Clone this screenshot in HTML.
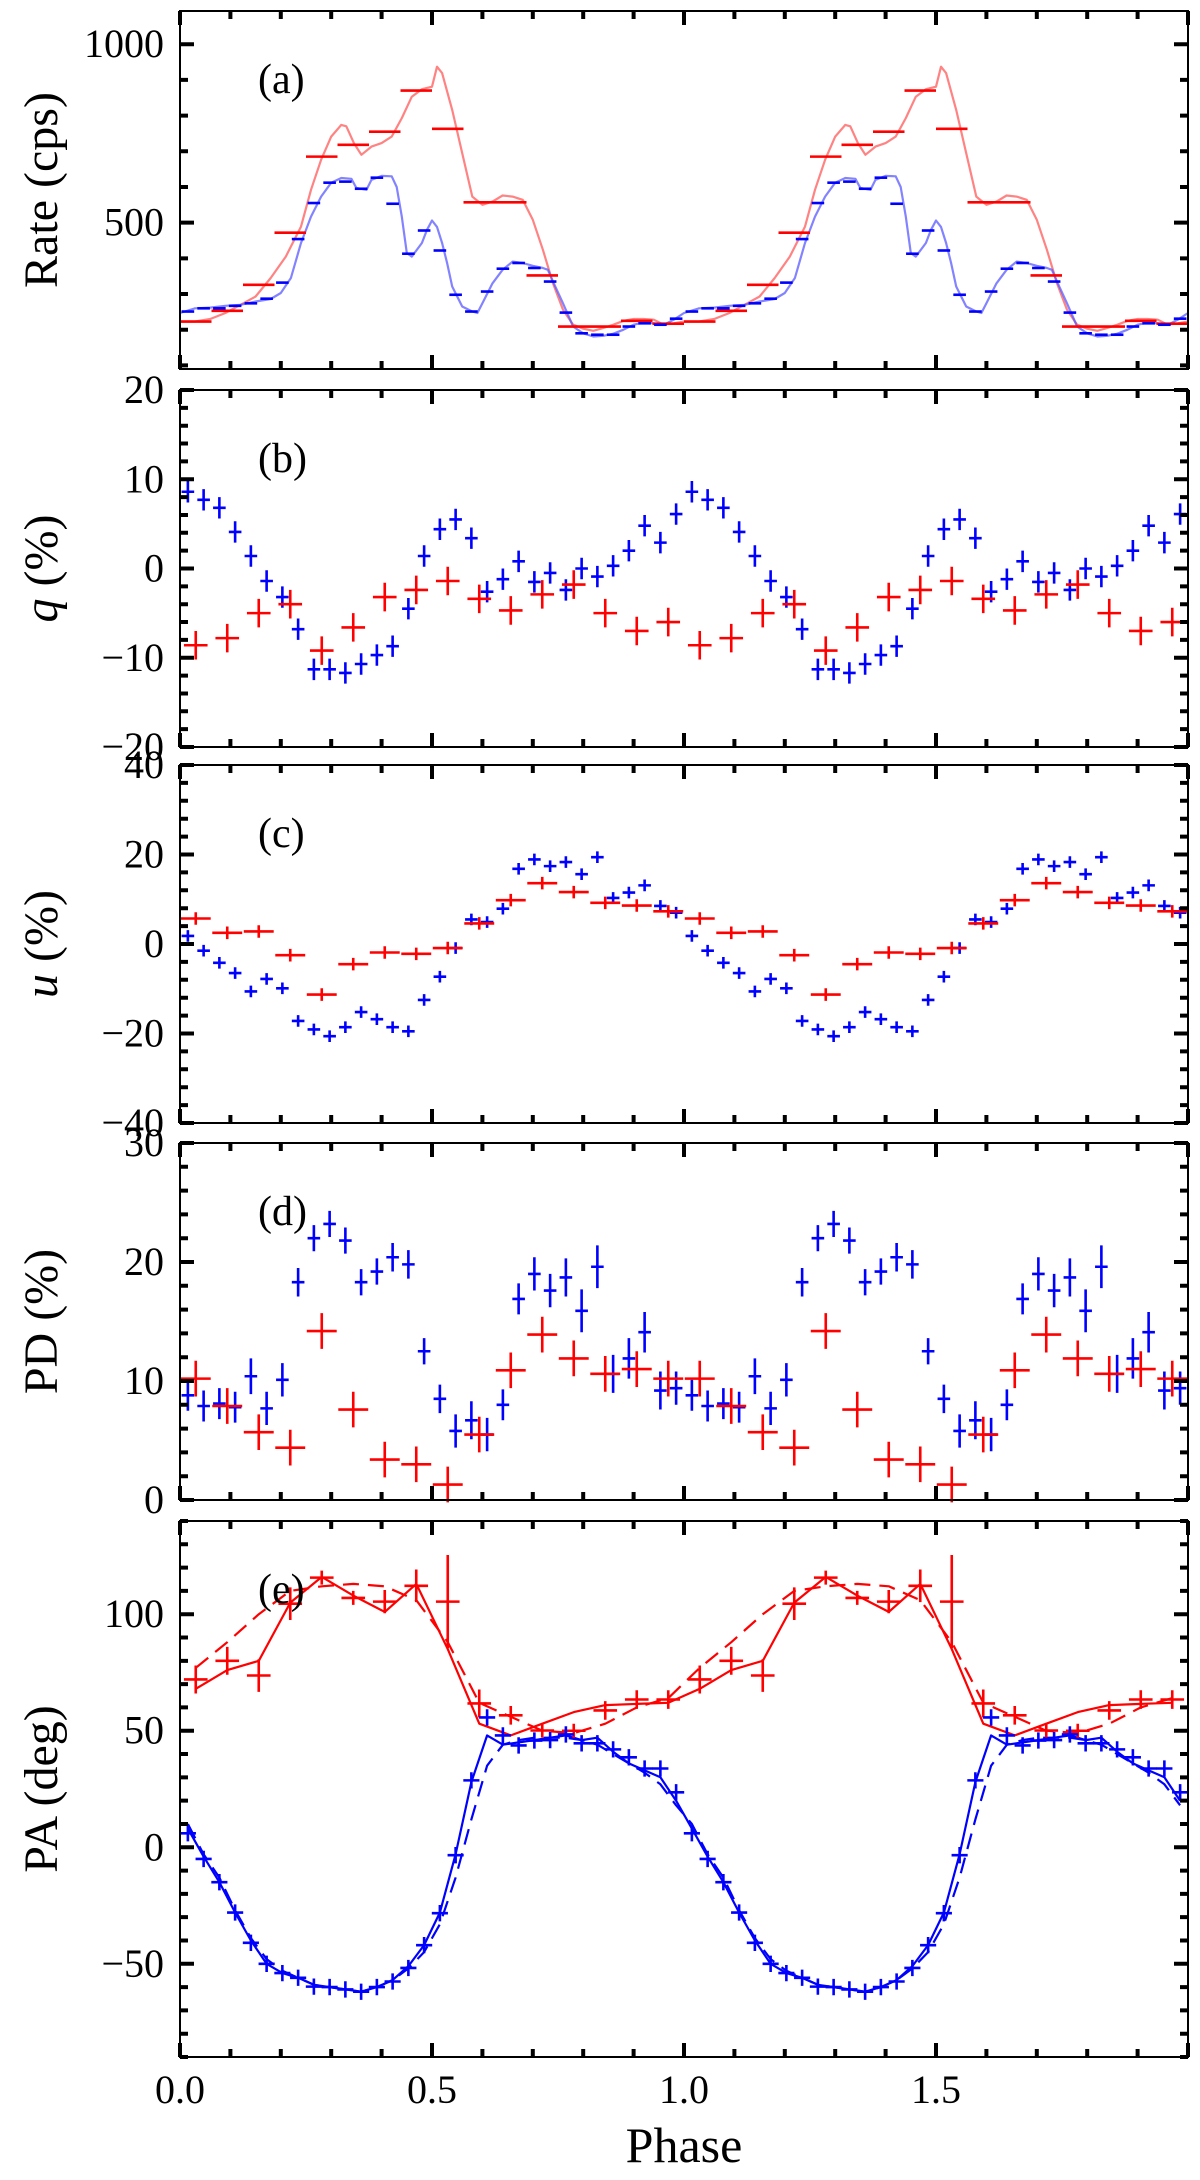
<!DOCTYPE html>
<html><head><meta charset="utf-8"><style>
html,body{margin:0;padding:0;background:#fff}
svg{display:block}
svg text{font-family:"Liberation Serif","DejaVu Serif",serif;fill:#000}
</style></head><body>
<svg id="chart" width="1200" height="2180" viewBox="0 0 1200 2180" xmlns="http://www.w3.org/2000/svg" font-family="Liberation Serif, serif">
<g id="marks"></g><g id="axes"></g>
</svg>
<script>
// ---------- data (one cycle; plotted twice) ----------
const rateRedBins=[223,253,326,472,685,718,755,870,763,557,557,352,209,209,225,217];
const rateBlueBins=[251,260,260,267,274,287,332,454,555,612,615,595,626,553,413,478,422,298,251,307,371,387,373,335,248,190,186,186,209,218,214,231];
const lcPhase=[0,0.03,0.06,0.09,0.12,0.15,0.18,0.21,0.24,0.26,0.28,0.30,0.32,0.33,0.345,0.36,0.38,0.40,0.42,0.44,0.46,0.48,0.50,0.51,0.52,0.54,0.56,0.58,0.60,0.62,0.64,0.66,0.68,0.70,0.72,0.74,0.76,0.78,0.80,0.82,0.84,0.86,0.88,0.90,0.92,0.94,0.96,0.98,1.00];
const lcRed=[223,223,230,247,270,293,345,405,489,592,676,741,774,770,723,690,713,723,741,793,853,874,881,937,919,816,695,573,550,559,576,573,564,508,424,330,256,214,203,197,205,214,225,230,230,228,214,218,223];
const lcBluePhase=[0,0.03,0.06,0.09,0.12,0.15,0.18,0.20,0.22,0.24,0.26,0.28,0.30,0.32,0.34,0.35,0.37,0.38,0.40,0.42,0.43,0.44,0.45,0.46,0.48,0.49,0.50,0.51,0.52,0.53,0.54,0.56,0.58,0.59,0.60,0.62,0.64,0.66,0.68,0.70,0.72,0.73,0.74,0.76,0.78,0.80,0.82,0.84,0.86,0.88,0.90,0.92,0.94,0.96,0.98,1.00];
const lcBlue=[247,260,262,267,270,279,286,303,345,443,517,573,612,625,623,597,592,620,631,630,600,517,415,405,443,480,506,488,443,387,321,265,251,247,274,330,368,391,387,379,373,368,335,274,209,190,181,183,189,200,214,220,218,214,228,247];
const qBlue=[8.6,7.7,6.8,4.1,1.4,-1.4,-3.2,-6.8,-11.3,-11.3,-11.7,-10.7,-9.7,-8.7,-4.5,1.4,4.4,5.5,3.4,-2.6,-1.2,0.8,-1.5,-0.5,-2.4,0,-0.9,0.3,2.0,4.8,2.9,6.1];
const qRed=[-8.6,-7.8,-5.0,-4.0,-9.2,-6.6,-3.2,-2.4,-1.4,-3.4,-4.7,-2.9,-1.8,-5.0,-7.0,-6.0];
const uBlue=[1.8,-1.5,-4.2,-6.5,-10.6,-7.8,-9.9,-17.2,-19.1,-20.6,-18.6,-15.2,-16.8,-18.6,-19.5,-12.5,-7.3,-0.9,5.5,4.9,7.9,16.8,18.9,17.4,18.3,15.6,19.4,10.3,11.5,13.1,8.5,7.0];
const uRed=[5.7,2.5,2.8,-2.5,-11.3,-4.5,-1.9,-2.2,-0.9,4.6,9.8,13.6,11.6,9.2,8.6,7.3];
const pdBlue=[8.8,7.9,8.1,7.8,10.4,7.7,10.1,18.3,22.0,23.2,21.8,18.3,19.2,20.4,19.8,12.5,8.5,5.8,6.7,5.5,8.0,16.9,19.0,17.6,18.7,15.9,19.6,10.6,11.9,14.1,9.2,9.4];
const pdBlueErr=[1.3,1.3,1.3,1.3,1.5,1.4,1.4,1.2,1.1,1.1,1.1,1.1,1.1,1.2,1.2,1.1,1.2,1.4,1.6,1.4,1.3,1.3,1.4,1.4,1.6,1.8,1.8,1.6,1.7,1.7,1.6,1.4];
const pdRed=[10.2,7.9,5.7,4.4,14.2,7.6,3.4,3.0,1.3,5.5,10.9,13.9,11.9,10.6,11.0,10.2];
const paBlue=[6,-5,-15,-28,-41,-50,-54,-56,-59.8,-60,-61,-62,-60,-57.6,-51.8,-42,-28.3,-3.4,28.7,55.7,48,43.7,45.8,46,48.4,44.6,44.6,42,38.6,33.8,33.8,23.6];
const paBlueModel=[8,-4,-15,-28,-40,-50,-54,-56,-59,-60,-61,-62,-60,-57,-51,-42,-28,-3,28,48,44,45,46,47,48,46,47,41,36,33,30,20];
const paBlueModelDash=[10,-3,-13,-27,-39,-48,-53,-56,-59,-60,-61,-62,-60,-57,-52,-45,-33,-13,12,35,44,46,47,47,47,46,44,40,36,32,27,18];
const paRed=[72,80,73.7,104.5,115.7,107,105.4,112.2,105.4,61.7,56.6,50.1,50,58.7,63.4,63.4];
const paRedErr=[6,6,7,7,3,3,5,7,20,6,4,3,3,4,4,4];
const paRedModel=[68,76,80,105,116,108,101,113,85,53,48,53,58,61,61.5,62];
const paRedModelDash=[77,88,100,110,112,113,112,106,88,62,56,50,49,53,60,64];
const xTicks=[0,0.5,1.0,1.5];
const xTickLabels=["0.0","0.5","1.0","1.5"];

// ---------- layout ----------
const X0=180,XS=504;
const panels={
 a:{top:11,bot:369,min:90,max:1093,major:[500,1000],minorStep:100,title:"Rate (cps)",label:"(a)"},
 b:{top:390,bot:747,min:-20,max:20,major:[-20,-10,0,10,20],minorStep:2,title:"q (%)",ital:true,label:"(b)"},
 c:{top:765,bot:1123,min:-40,max:40,major:[-40,-20,0,20,40],minorStep:4,title:"u (%)",ital:true,label:"(c)"},
 d:{top:1143,bot:1500,min:0,max:30,major:[0,10,20,30],minorStep:2,title:"PD (%)",label:"(d)"},
 e:{top:1521,bot:2057,min:-90,max:140,major:[-50,0,50,100],minorStep:10,title:"PA (deg)",label:"(e)"}
};
const NS="http://www.w3.org/2000/svg";
const marks=document.getElementById('marks'), axes=document.getElementById('axes');
function px(p){return X0+p*XS;}
function py(P,v){return P.bot-(v-P.min)/(P.max-P.min)*(P.bot-P.top);}
function mk(tag,parent){const e=document.createElementNS(NS,tag);parent.appendChild(e);if(tag==='text'){e.setAttribute('font-family','Liberation Serif, serif');}return e;}
const RED="#ff0000",BLUE="#0000ff";

function cross(P,ph,v,hw,ve,col,name){
 for(let k=0;k<2;k++){
  const x=px(ph+k);
  const l=mk('path',marks);
  
  
  const y=py(P,v);
  let d=`M${Math.max(X0,x-hw*XS)},${y}H${Math.min(px(2),x+hw*XS)}`;
  if(ve>0)d+=`M${x},${py(P,v-ve)}V${py(P,v+ve)}`;
  l.setAttribute('d',d);
  l.setAttribute('stroke',col);l.setAttribute('stroke-width','2.6');l.setAttribute('fill','none');
 }
}
function curve(P,phs,vals,col,w,dash,name){
 let d="";
 for(let k=0;k<2;k++){
  phs.forEach((ph,i)=>{
   const x=px(ph+k),y=py(P,vals[i]);
   d+=(d===""?"M":"L")+x.toFixed(1)+","+y.toFixed(1);
  });
 }
 const l=mk('path',marks);
 
 
 l.setAttribute('d',d);l.setAttribute('stroke',col);l.setAttribute('stroke-width',w);l.setAttribute('fill','none');
 l.setAttribute('stroke-linejoin','round');
 if(dash)l.setAttribute('stroke-dasharray',dash);
}
const bphase=i=>(i+0.5)/32, rphase=i=>(i+0.5)/16;
const BHW=0.0125,RHW=1/32;

const A=panels.a;
curve(A,lcPhase,lcRed,"rgba(255,90,90,0.75)",2.2,null,"red-light-curve");
curve(A,lcBluePhase,lcBlue,"rgba(90,90,255,0.75)",2.2,null,"blue-light-curve");
rateRedBins.forEach((v,i)=>cross(A,rphase(i),v,RHW,0,RED,"red-rate-bin"));
rateBlueBins.forEach((v,i)=>cross(A,bphase(i),v,BHW,0,BLUE,"blue-rate-bin"));
const B=panels.b;
qBlue.forEach((v,i)=>cross(B,bphase(i),v,BHW,1.2,BLUE,"blue-q-point"));
qRed.forEach((v,i)=>cross(B,rphase(i),v,RHW*0.75,1.6,RED,"red-q-point"));
const C=panels.c;
uBlue.forEach((v,i)=>cross(C,bphase(i),v,BHW,1.3,BLUE,"blue-u-point"));
uRed.forEach((v,i)=>cross(C,rphase(i),v,RHW*0.95,1.4,RED,"red-u-point"));
const D=panels.d;
pdBlue.forEach((v,i)=>cross(D,bphase(i),v,BHW,pdBlueErr[i],BLUE,"blue-pd-point"));
pdRed.forEach((v,i)=>cross(D,rphase(i),v,RHW*0.95,1.5,RED,"red-pd-point"));
const E=panels.e;
const bph=paBlue.map((v,i)=>bphase(i)), rph=paRed.map((v,i)=>rphase(i));
curve(E,rph,paRedModel,RED,2.2,null,"red-pa-model-solid");
curve(E,rph,paRedModelDash,RED,2.2,"16,9","red-pa-model-dashed");
curve(E,bph,paBlueModel,BLUE,2.2,null,"blue-pa-model-solid");
curve(E,bph,paBlueModelDash,BLUE,2.2,"16,9","blue-pa-model-dashed");
paRed.forEach((v,i)=>cross(E,rphase(i),v,RHW*0.75,paRedErr[i],RED,"red-pa-point"));
paBlue.forEach((v,i)=>cross(E,bphase(i),v,0.016,3.5,BLUE,"blue-pa-point"));

const XR=px(2);
Object.keys(panels).forEach(key=>{
 const P=panels[key];
 const f=mk('rect',axes);
 
 
 f.setAttribute('x',X0);f.setAttribute('y',P.top);f.setAttribute('width',XR-X0);f.setAttribute('height',P.bot-P.top);
 f.setAttribute('fill','none');f.setAttribute('stroke','#000');f.setAttribute('stroke-width','2');
 let d="";
 for(let t=0;t<=20;t++){const x=px(t/10);const L=(t%5===0)?14:8;
  d+=`M${x},${P.bot}v${-L}M${x},${P.top}v${L}`;}
 const s=Math.ceil(P.min/P.minorStep);
 for(let v=s*P.minorStep;v<=P.max+1e-9;v+=P.minorStep){
  const y=py(P,v);const maj=P.major.some(m=>Math.abs(m-v)<1e-6);const L=maj?14:8;
  d+=`M${X0},${y}h${L}M${XR},${y}h${-L}`;
 }
 const t=mk('path',axes);
 
 
 t.setAttribute('d',d);t.setAttribute('stroke','#000');t.setAttribute('stroke-width','4');
 P.major.forEach(v=>{
  const tx=mk('text',axes);
  
  
  tx.setAttribute('x',164);tx.setAttribute('y',py(P,v)+13);tx.setAttribute('text-anchor','end');tx.setAttribute('font-size','40');
  tx.textContent=(v<0?"\u2212"+(-v):String(v));
 });
 const tt=mk('text',axes);
 
 
 const cy=(P.top+P.bot)/2;
 tt.setAttribute('transform',`translate(57,${cy}) rotate(-90)`);
 tt.setAttribute('text-anchor','middle');tt.setAttribute('font-size','48');
 if(P.ital){tt.innerHTML=`<tspan font-style="italic">${P.title[0]}</tspan>${P.title.slice(1)}`;}else tt.textContent=P.title;
 const pl=mk('text',axes);
 
 
 pl.setAttribute('x',258);pl.setAttribute('y',P.top+82);pl.setAttribute('font-size','42');
 pl.textContent=P.label;
});
xTicks.forEach((v,i)=>{
 const tx=mk('text',axes);
 
 
 tx.setAttribute('x',px(v));tx.setAttribute('y',2103);tx.setAttribute('text-anchor','middle');tx.setAttribute('font-size','40');
 tx.textContent=xTickLabels[i];
});
const xt=mk('text',axes);


xt.setAttribute('x',684);xt.setAttribute('y',2162);xt.setAttribute('text-anchor','middle');xt.setAttribute('font-size','50');
xt.textContent="Phase";
</script>
</body></html>
